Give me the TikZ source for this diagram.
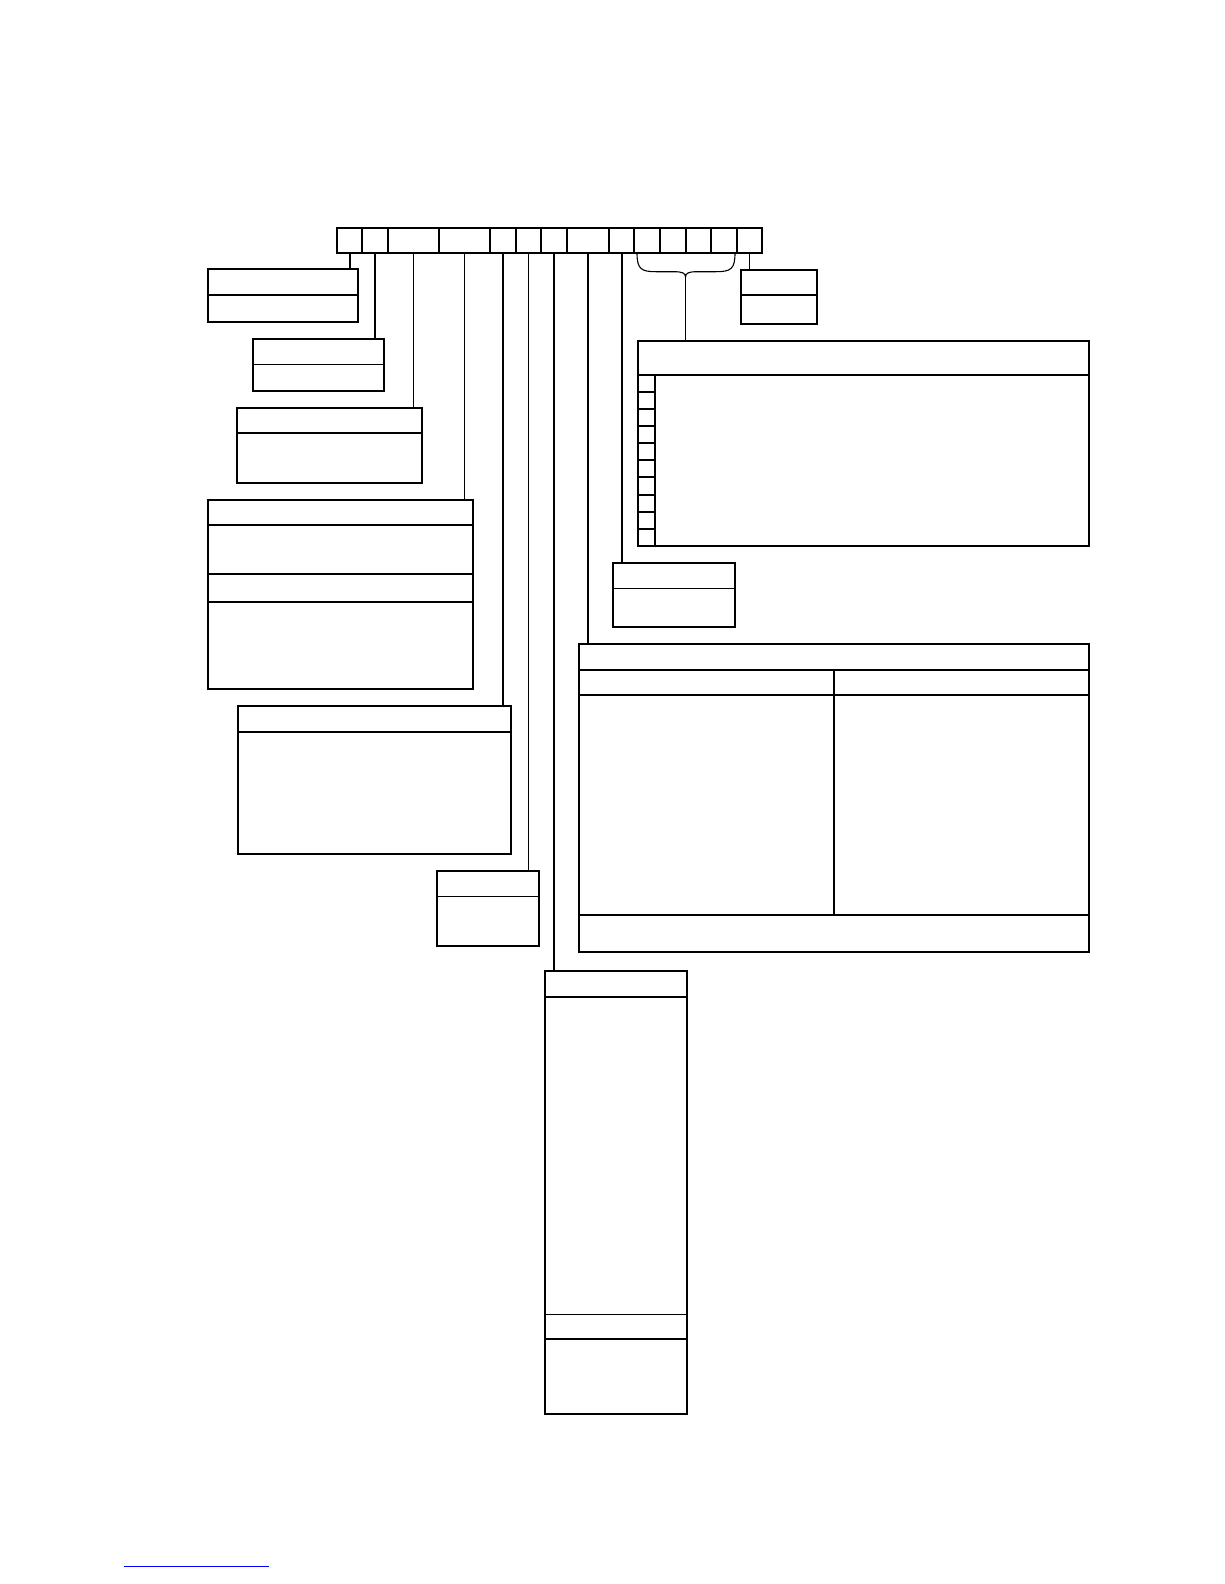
\documentclass[tikz,border=0pt]{standalone}
\usetikzlibrary{positioning}

\tikzset{
    frame/.style={draw, rectangle, line width=2pt, inner sep=0pt, outer sep=0pt, anchor=north west},
    thickrule/.style={line width=2pt},
    thinrule/.style={line width=1.1pt},
}

\begin{document}
\begin{tikzpicture}[x=1pt, y=-1pt]
    \useasboundingbox (0,0) rectangle (1224,1584);

    % the bar of fields
    \node[frame, minimum width=425.6pt, minimum height=25pt] (bar) at (336.7,227.7) {};
    \foreach \x in {362.3,388,439,490,515.7,541,566.7,608.7,634.3,660,685.7,711,736.7} {
        \draw[thickrule] (\x,227.7) -- (\x,252.7);
    }

    % boxes
    \node[frame, minimum width=150.3pt, minimum height=52.7pt] (b1) at (207.7,269.3) {};
    \node[frame, minimum width=131.6pt, minimum height=52pt] (b2) at (252.7,338.7) {};
    \node[frame, minimum width=185pt, minimum height=75.3pt] (b3) at (237.3,407.7) {};
    \node[frame, minimum width=265pt, minimum height=189.3pt] (b4) at (207.7,500) {};
    \node[frame, minimum width=273.3pt, minimum height=147.7pt] (b5) at (237.7,706) {};
    \node[frame, minimum width=101.7pt, minimum height=75.3pt] (b6) at (437.3,870.7) {};
    \node[frame, minimum width=141.7pt, minimum height=442.7pt] (btall) at (545,971.3) {};
    \node[frame, minimum width=510.3pt, minimum height=308.4pt] (btable) at (578.7,644) {};
    \node[frame, minimum width=122.6pt, minimum height=64.6pt] (b8) at (612.7,562.7) {};
    \node[frame, minimum width=451.3pt, minimum height=205.3pt] (bflags) at (637.7,340.7) {};
    \node[frame, minimum width=76pt, minimum height=54.3pt] (bright) at (740.7,269.7) {};

    % rules inside the boxes
    \draw[thickrule] (207.7,295) -- (358,295);
    \draw[thinrule] (252.7,364.3) -- (384.3,364.3);
    \draw[thickrule] (237.3,433) -- (422.3,433);
    \foreach \y in {524.7,573.7,601.7} {
        \draw[thickrule] (207.7,\y) -- (472.7,\y);
    }
    \draw[thickrule] (237.7,732) -- (511,732);
    \draw[thinrule] (437.3,896.3) -- (539,896.3);
    \draw[thickrule] (545,997) -- (686.7,997);
    \draw[thinrule] (545,1314.7) -- (686.7,1314.7);
    \draw[thickrule] (545,1339.3) -- (686.7,1339.3);
    \foreach \y in {669.7,695,915} {
        \draw[thickrule] (578.7,\y) -- (1089,\y);
    }
    \draw[thickrule] (834,669.7) -- (834,915);
    \draw[thinrule] (612.7,588.7) -- (735.3,588.7);
    \draw[thickrule] (637.7,374.7) -- (1089,374.7);
    \draw[thickrule] (654.7,374.7) -- (654.7,546);
    \foreach \i in {1,...,9} {
        \draw[thickrule] (637.7,{374.7+17.13*\i}) -- (654.7,{374.7+17.13*\i});
    }
    \draw[thickrule] (740.7,295) -- (816.7,295);

    % connectors from the bar
    \coordinate (p1) at (350,252.7);
    \coordinate (p2) at (374.7,252.7);
    \coordinate (p3) at (413.3,252.7);
    \coordinate (p4) at (464.3,252.7);
    \coordinate (p5) at (502.7,252.7);
    \coordinate (p6) at (528.3,252.7);
    \coordinate (p7) at (554,252.7);
    \coordinate (p8) at (587.7,252.7);
    \coordinate (p9) at (622,252.7);
    \coordinate (p10) at (749.3,252.7);
    \draw[thickrule] (p1) -- (p1 |- b1.north);
    \draw[thickrule] (p2) -- (p2 |- b2.north);
    \draw[thinrule] (p3) -- (p3 |- b3.north);
    \draw[thinrule] (p4) -- (p4 |- b4.north);
    \draw[thickrule] (p5) -- (p5 |- b5.north);
    \draw[thinrule] (p6) -- (p6 |- b6.north);
    \draw[thickrule] (p7) -- (p7 |- btall.north);
    \draw[thickrule] (p8) -- (p8 |- btable.north);
    \draw[thickrule] (p9) -- (p9 |- b8.north);
    \draw[thinrule] (p10) -- (p10 |- bright.north);

    % brace over the flag fields
    \coordinate (tip) at (685.5,277);
    \draw[thinrule] (637,252.7) .. controls (637,269) and (641,271.7) .. (656,271.7) -- (674,271.7)
        .. controls (682,271.7) and (685.5,273) .. (tip)
        .. controls (685.5,273) and (689,271.7) .. (697,271.7) -- (716,271.7)
        .. controls (731,271.7) and (735,269) .. (735,252.7);
    \draw[thinrule] (tip) -- (tip |- bflags.north);

    \draw[blue, line width=0.8pt] (124,1566) -- (269,1566);
\end{tikzpicture}
\end{document}
